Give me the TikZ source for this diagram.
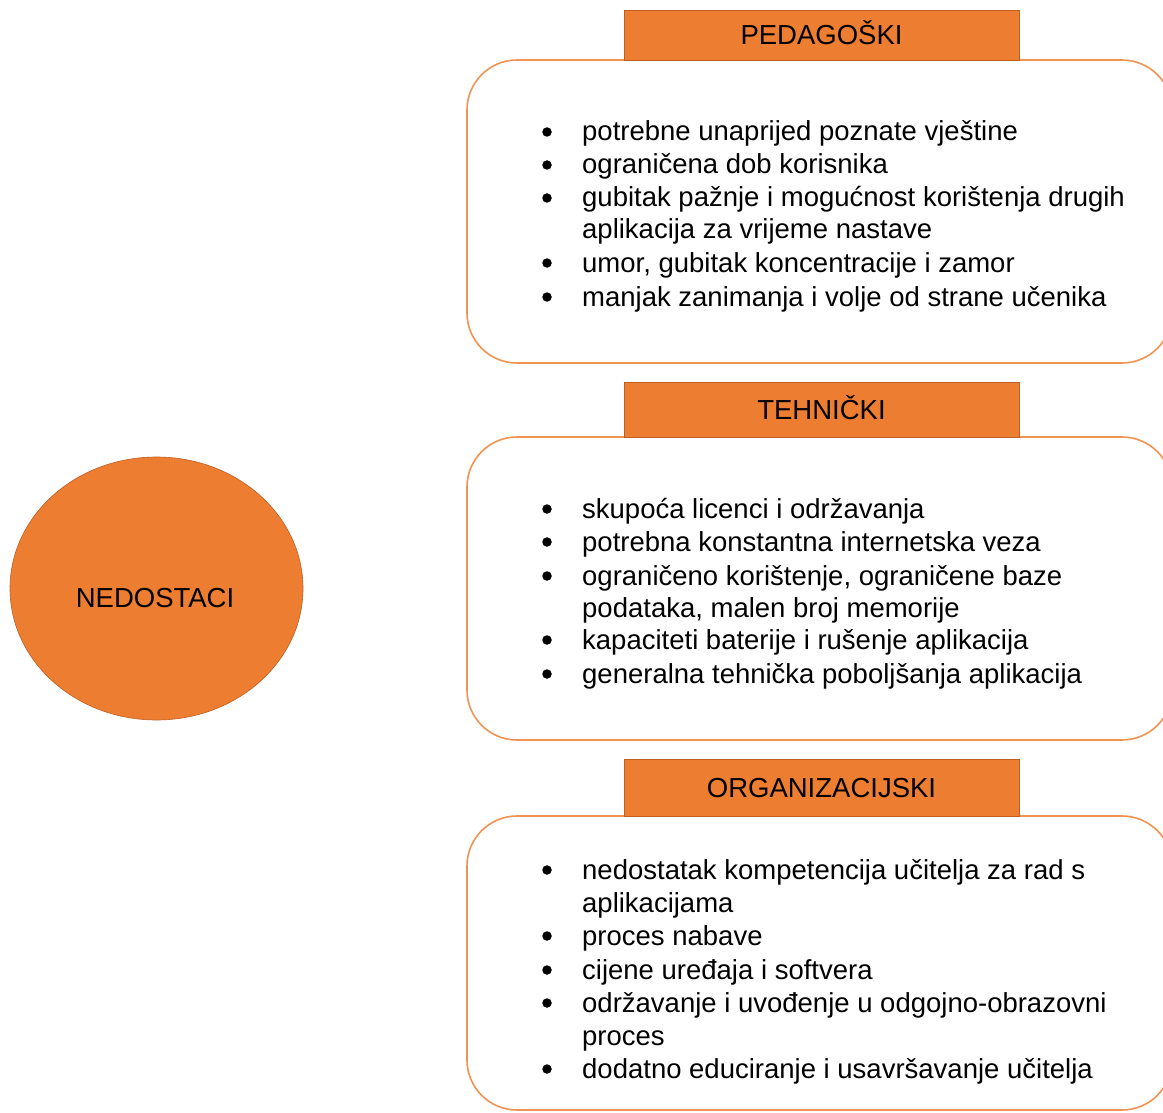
\documentclass[tikz,border=0pt]{standalone}
\usepackage{fontspec}
\setmainfont{Liberation Sans}
\usetikzlibrary{shapes.geometric}
\definecolor{orfill}{RGB}{237,125,49}
\definecolor{ordark}{RGB}{190,95,35}
\definecolor{orline}{RGB}{241,147,82}
\newcommand{\bitem}[3]{\node[bul] (#1b) at (547,{#2-9}) {}; \node[itm] (#1) at (582,#2) {#3};}
\newcommand{\citem}[3]{\node[itm] (#1) at (582,#2) {#3};}
\begin{document}
\begin{tikzpicture}[x=1pt,y=-1pt,
  every node/.style={font=\fontsize{27.5}{33}\selectfont},
  itm/.style={anchor=base west, inner sep=0pt},
  bul/.style={circle, fill=black, minimum size=9.5pt, inner sep=0pt},
  panel/.style={draw=orline, line width=1.6pt, rounded corners=50pt, rectangle, inner sep=0pt},
  header/.style={draw=ordark, line width=0.8pt, fill=orfill, rectangle, inner sep=0pt,
     minimum width=395pt, text height=20pt, text depth=0pt},
]
\useasboundingbox (0,0) rectangle (1163,1113);
\clip (0,0) rectangle (1163,1113);
\fill[white] (0,0) rectangle (1163,1113);

% central ellipse
\node[ellipse, draw=ordark, line width=0.6pt, fill=orfill, minimum width=293pt, minimum height=263pt, inner sep=0pt] (e) at (156.5,588.5) {};
\node[anchor=base, inner sep=0pt] (elabel) at (155,607) {NEDOSTACI};

% panels
\node[panel, minimum width=705pt, minimum height=303pt] (p1) at (819.5,211.5) {};
\node[panel, minimum width=705pt, minimum height=303pt] (p2) at (819.5,588.5) {};
\node[panel, minimum width=705pt, minimum height=294pt] (p3) at (819.5,963) {};

% headers
\node[header, minimum height=50pt] (h1) at (821.5,35) {PEDAGOŠKI};
\node[header, minimum height=55pt] (h2) at (821.5,409.5) {TEHNIČKI};
\node[header, minimum height=57pt] (h3) at (821.5,787.5) {ORGANIZACIJSKI};

% list 1
\bitem{a1}{141}{potrebne unaprijed poznate vještine}
\bitem{a2}{174}{ograničena dob korisnika}
\bitem{a3}{207}{gubitak pažnje i mogućnost korištenja drugih}
\citem{a3c}{239}{aplikacija za vrijeme nastave}
\bitem{a4}{272}{umor, gubitak koncentracije i zamor}
\bitem{a5}{306}{manjak zanimanja i volje od strane učenika}

% list 2
\bitem{b1}{518}{skupoća licenci i održavanja}
\bitem{b2}{551}{potrebna konstantna internetska veza}
\bitem{b3}{585}{ograničeno korištenje, ograničene baze}
\citem{b3c}{617}{podataka, malen broj memorije}
\bitem{b4}{649}{kapaciteti baterije i rušenje aplikacija}
\bitem{b5}{683}{generalna tehnička poboljšanja aplikacija}

% list 3
\bitem{c1}{879}{nedostatak kompetencija učitelja za rad s}
\citem{c1c}{912}{aplikacijama}
\bitem{c2}{945}{proces nabave}
\bitem{c3}{979}{cijene uređaja i softvera}
\bitem{c4}{1012}{održavanje i uvođenje u odgojno-obrazovni}
\citem{c4c}{1045}{proces}
\bitem{c5}{1078}{dodatno educiranje i usavršavanje učitelja}
\end{tikzpicture}
\end{document}
